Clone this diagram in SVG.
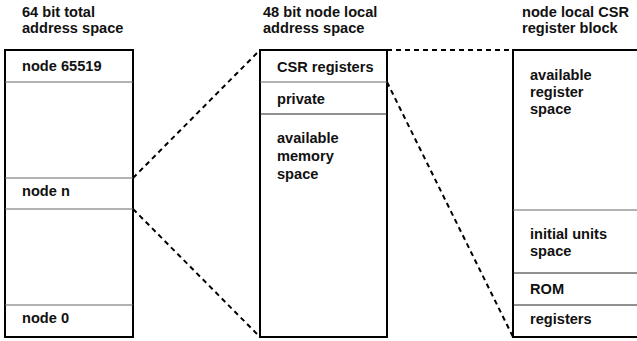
<svg xmlns="http://www.w3.org/2000/svg" width="637" height="341" viewBox="0 0 637 341">
<style>
text{font-family:"Liberation Sans",Arial,sans-serif;font-weight:bold;font-size:14.6px;fill:#111}
.box{fill:#fff;stroke:#000;stroke-width:2}
.div{stroke:#666;stroke-width:1}
.divd{stroke:#222;stroke-width:1}
.dash{fill:none;stroke:#000;stroke-width:2;stroke-dasharray:5,4}
</style>
<rect width="637" height="341" fill="#fff"/>
<g id="connectors">
<line class="dash" x1="133" y1="178" x2="260" y2="50"/>
<line class="dash" x1="133" y1="209" x2="260" y2="337"/>
<line class="dash" x1="387" y1="50" x2="513" y2="50"/>
<line class="dash" x1="387" y1="82" x2="513" y2="337"/>
</g>
<g id="total">
<text x="22" y="17">64 bit total</text>
<text x="22" y="33">address space</text>
<rect class="box" x="5" y="50" width="128" height="287"/>
<line class="div" x1="5" y1="82" x2="133" y2="82"/>
<line class="div" x1="5" y1="178" x2="133" y2="178"/>
<line class="div" x1="5" y1="209" x2="133" y2="209"/>
<line class="div" x1="5" y1="305" x2="133" y2="305"/>
<text x="22" y="71">node 65519</text>
<text x="22" y="196">node n</text>
<text x="22" y="323">node 0</text>
</g>
<g id="local">
<text x="263" y="17">48 bit node local</text>
<text x="263" y="33">address space</text>
<rect class="box" x="260" y="50" width="127" height="287"/>
<line class="div" x1="260" y1="82" x2="387" y2="82"/>
<line class="divd" x1="260" y1="114" x2="387" y2="114"/>
<text x="277" y="72">CSR registers</text>
<text x="277" y="104">private</text>
<text x="277" y="143">available</text>
<text x="277" y="161">memory</text>
<text x="277" y="179">space</text>
</g>
<g id="csr">
<text x="522" y="17">node local CSR</text>
<text x="522" y="33">register block</text>
<rect class="box" x="513" y="50" width="140" height="287"/>
<line class="div" x1="513" y1="210" x2="637" y2="210"/>
<line class="divd" x1="513" y1="273" x2="637" y2="273"/>
<line class="divd" x1="513" y1="305" x2="637" y2="305"/>
<text x="530" y="80">available</text>
<text x="530" y="97">register</text>
<text x="530" y="114">space</text>
<text x="530" y="239">initial units</text>
<text x="530" y="256">space</text>
<text x="530" y="294">ROM</text>
<text x="530" y="324">registers</text>
</g>
</svg>
